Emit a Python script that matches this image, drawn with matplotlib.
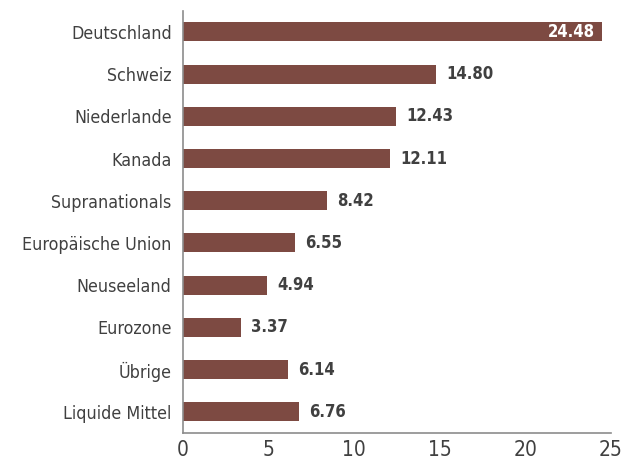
import matplotlib
matplotlib.use('Agg')
import matplotlib.pyplot as plt

# Data
countries = ['Deutschland', 'Schweiz', 'Niederlande', 'Kanada', 'Supranationals',
             'Europäische Union', 'Neuseeland', 'Eurozone', 'Übrige', 'Liquide Mittel']
weights = [24.48, 14.80, 12.43, 12.11, 8.42, 6.55, 4.94, 3.37, 6.14, 6.76]
x_ticks = [0, 5, 10, 15, 20, 25]

bar_color = '#7d4a42'
text_color = '#404040'
plt.rcParams['font.family'] = ['DejaVu Sans']

fig = plt.figure(figsize=(6.26, 4.73), dpi=100)
ax = fig.add_axes([0.292, 0.085, 0.684, 0.892])

pos = list(range(len(countries)))
ax.barh(pos, weights, height=0.45, color=bar_color)
ax.set_ylim(len(countries) - 0.5, -0.5)
ax.set_xlim(0, 25)

ax.set_yticks(pos)
ax.set_yticklabels(countries, fontsize=12.8, color=text_color, fontstretch='condensed')
ax.set_xticks(x_ticks)
ax.set_xticklabels([str(t) for t in x_ticks], fontsize=15, color=text_color, fontstretch='condensed')
ax.tick_params(axis='y', length=0, pad=8)
ax.tick_params(axis='x', length=0, pad=5)

for i, v in enumerate(weights):
    if v > 20:
        ax.text(v - 0.4, i, '%.2f' % v, ha='right', va='center', color='white',
                fontsize=12, fontweight='bold', fontstretch='condensed')
    else:
        ax.text(v + 0.6, i, '%.2f' % v, ha='left', va='center', color=text_color,
                fontsize=12, fontweight='bold', fontstretch='condensed')

for s in ['top', 'right']:
    ax.spines[s].set_visible(False)
for s in ['left', 'bottom']:
    ax.spines[s].set_color('#8c8c8c')
    ax.spines[s].set_linewidth(1.2)

fig.savefig('out.png', dpi=100)
